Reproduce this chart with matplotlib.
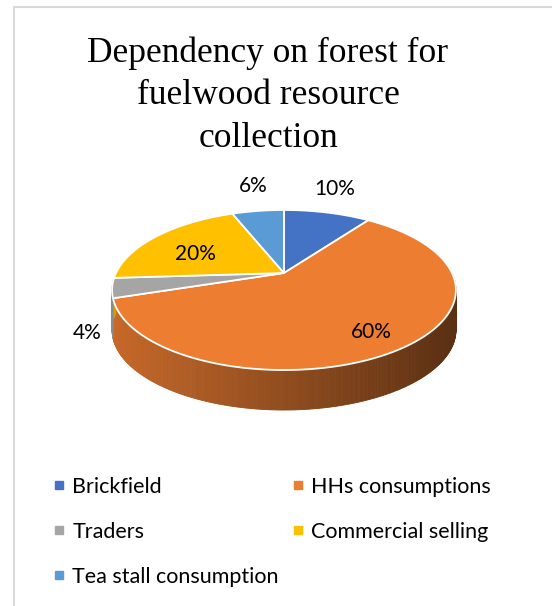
import numpy as np
import matplotlib
matplotlib.use("Agg")
import matplotlib.pyplot as plt
from matplotlib.patches import Polygon
from matplotlib.lines import Line2D
from matplotlib.colors import to_rgb

title_lines = ["Dependency on forest for", "fuelwood resource", "collection"]
categories = ["Brickfield", "HHs consumptions", "Traders",
              "Commercial selling", "Tea stall consumption"]
shares = [10, 60, 4, 20, 6]
colors = ["#4472C4", "#ED7D31", "#A5A5A5", "#FFC000", "#5B9BD5"]

W, H = 552, 606
fig = plt.figure(figsize=(W / 100, H / 100), dpi=100)
ax = fig.add_axes([0, 0, 1, 1])
ax.set_xlim(0, W)
ax.set_ylim(H, 0)
ax.axis("off")

# pie geometry (pixels), with a little perspective
cx, cy = 284, 273
rx, ry = 168, 76.4
persp = 0.2125
depth = 40


def project(theta, r=1.0):
    u = r * np.cos(theta)
    v = r * np.sin(theta)
    s = 1 + persp * v
    return cx + rx * u / s, cy - ry * v / s


fracs = np.array(shares) / sum(shares)
bounds = np.pi / 2 - 2 * np.pi * np.concatenate([[0], np.cumsum(fracs)])

# side walls (front half only), shaded left -> right
xmin, xmax = cx - rx * 1.03, cx + rx * 1.03
for i, c in enumerate(colors):
    base = np.array(to_rgb(c))
    n = max(int(fracs[i] * 720), 2)
    t = np.linspace(bounds[i + 1], bounds[i], n)
    for a, b in zip(t[:-1], t[1:]):
        if np.sin((a + b) / 2) >= 0:
            continue
        x1, y1 = project(a)
        x2, y2 = project(b)
        f = (((x1 + x2) / 2) - xmin) / (xmax - xmin)
        shade = 0.84 - 0.46 * f
        col = np.clip(base * shade, 0, 1)
        ax.add_patch(Polygon([(x1, y1), (x2, y2), (x2, y2 + depth), (x1, y1 + depth)],
                             closed=True, facecolor=col, edgecolor=col, lw=0.6))

# top faces
for i, c in enumerate(colors):
    n = max(int(fracs[i] * 720), 2)
    t = np.linspace(bounds[i], bounds[i + 1], n)
    pts = [(cx, cy)] + [project(a) for a in t]
    ax.add_patch(Polygon(pts, closed=True, facecolor=c, edgecolor="white",
                         lw=1.3, joinstyle="round"))

# data labels: big slices inside, small ones outside
for i, v in enumerate(shares):
    mid = (bounds[i] + bounds[i + 1]) / 2
    if v >= 15:
        x, y = project(mid, 0.72)
        x += 6
        y += 8
    else:
        x, y = project(mid)
        if np.sin(mid) < 0:
            y += depth
        x += 25 * np.cos(mid)
        y -= 25 * np.sin(mid)
    ax.text(x, y, f"{v}%", ha="center", va="center", fontfamily="Lato",
            fontsize=15, color="#000000")

for k, line in enumerate(title_lines):
    ax.text(268, 61.7 + 42.5 * k, line, ha="center", va="baseline",
            fontfamily="Liberation Serif", fontsize=25.5, color="#000000")

# legend, row-major order
order = [0, 2, 4, 1, 3]
handles = [Line2D([], [], marker="s", ls="none", markersize=5.8,
                  color=colors[k]) for k in order]
labels = [categories[k] for k in order]
ax.legend(handles, labels, ncol=2, loc="upper left",
          bbox_to_anchor=(50.6, 477), bbox_transform=ax.transData,
          frameon=False, borderpad=0, borderaxespad=0,
          handlelength=0.8, handletextpad=0.2, columnspacing=0.5,
          labelspacing=1.15, prop={"family": "Lato", "size": 15.5})

# chart frame edge
ax.plot([13.5, 13.5, W], [H, 6.5, 6.5], color="#D9D9D9", lw=1.5)

fig.savefig("out.png", dpi=100, facecolor="white")
